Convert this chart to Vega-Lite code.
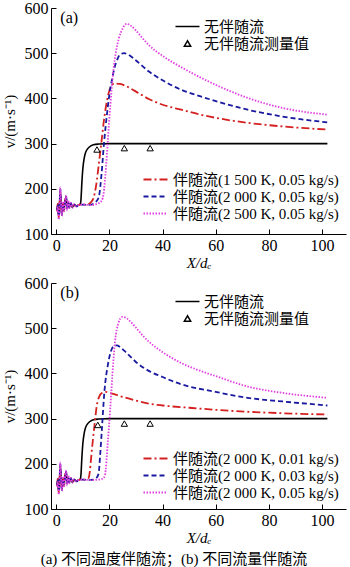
{
"$schema": "https://vega.github.io/schema/vega-lite/v6.json",
"background": "white",
"padding": {"left": 2, "top": 0, "right": 3, "bottom": 2},
"bounds": "flush",
"spacing": 49,
"config": {
  "font": "Liberation Serif, Noto Sans CJK SC",
  "view": {"stroke": null},
  "axis": {"grid": false, "domainColor": "#000", "tickColor": "#000", "labelColor": "#000", "titleColor": "#000", "labelFont": "Liberation Serif, Noto Sans CJK SC", "titleFont": "Liberation Serif, Noto Sans CJK SC", "labelFontSize": 16, "titleFontSize": 15, "titleFontWeight": "normal", "tickSize": -5, "labelPadding": 8, "labelFlush": false, "domainWidth": 1, "tickWidth": 1},
  "axisX": {"titleFontStyle": "italic", "titlePadding": 2},
  "axisY": {"titlePadding": 7},
  "legend": {"labelFont": "Liberation Serif, Noto Sans CJK SC", "labelFontSize": 15, "labelColor": "#000", "labelLimit": 400, "rowPadding": 1, "padding": 0}
},
"title": {"text": "(a) 不同温度伴随流；(b) 不同流量伴随流", "orient": "bottom", "anchor": "middle", "fontSize": 15, "fontWeight": "normal", "color": "#000", "offset": 7, "font": "Liberation Serif, Noto Sans CJK SC"},
"datasets": {
  "curves": [
    {"p":"a","s":"无伴随流","x":0.3,"y":152},{"p":"a","s":"无伴随流","x":0.6,"y":166},{"p":"a","s":"无伴随流","x":0.9,"y":140},{"p":"a","s":"无伴随流","x":1.2,"y":162},{"p":"a","s":"无伴随流","x":1.5,"y":196},{"p":"a","s":"无伴随流","x":1.8,"y":164},{"p":"a","s":"无伴随流","x":2.1,"y":144},{"p":"a","s":"无伴随流","x":2.5,"y":168},{"p":"a","s":"无伴随流","x":2.9,"y":153},{"p":"a","s":"无伴随流","x":3.3,"y":174},{"p":"a","s":"无伴随流","x":3.7,"y":181},{"p":"a","s":"无伴随流","x":4.1,"y":156},{"p":"a","s":"无伴随流","x":4.5,"y":170},{"p":"a","s":"无伴随流","x":5.0,"y":160},{"p":"a","s":"无伴随流","x":5.5,"y":167},{"p":"a","s":"无伴随流","x":6.0,"y":159},{"p":"a","s":"无伴随流","x":6.7,"y":165},{"p":"a","s":"无伴随流","x":7.5,"y":162},{"p":"a","s":"无伴随流","x":8.3,"y":164},{"p":"a","s":"无伴随流","x":9.0,"y":166},
    {"p":"a","s":"无伴随流","x":9.3,"y":178},{"p":"a","s":"无伴随流","x":9.6,"y":212},{"p":"a","s":"无伴随流","x":10.0,"y":246},{"p":"a","s":"无伴随流","x":10.5,"y":268},{"p":"a","s":"无伴随流","x":11,"y":280},{"p":"a","s":"无伴随流","x":12,"y":290},{"p":"a","s":"无伴随流","x":13,"y":295},{"p":"a","s":"无伴随流","x":14,"y":297.5},{"p":"a","s":"无伴随流","x":16,"y":299},{"p":"a","s":"无伴随流","x":20,"y":300},{"p":"a","s":"无伴随流","x":40,"y":300},{"p":"a","s":"无伴随流","x":60,"y":300},{"p":"a","s":"无伴随流","x":80,"y":300},{"p":"a","s":"无伴随流","x":102,"y":300},

    {"p":"a","s":"伴随流(1 500 K, 0.05 kg/s)","x":0.3,"y":150},{"p":"a","s":"伴随流(1 500 K, 0.05 kg/s)","x":0.6,"y":168},{"p":"a","s":"伴随流(1 500 K, 0.05 kg/s)","x":0.9,"y":136},{"p":"a","s":"伴随流(1 500 K, 0.05 kg/s)","x":1.2,"y":165},{"p":"a","s":"伴随流(1 500 K, 0.05 kg/s)","x":1.5,"y":192},{"p":"a","s":"伴随流(1 500 K, 0.05 kg/s)","x":1.8,"y":160},{"p":"a","s":"伴随流(1 500 K, 0.05 kg/s)","x":2.1,"y":146},{"p":"a","s":"伴随流(1 500 K, 0.05 kg/s)","x":2.5,"y":170},{"p":"a","s":"伴随流(1 500 K, 0.05 kg/s)","x":2.9,"y":150},{"p":"a","s":"伴随流(1 500 K, 0.05 kg/s)","x":3.3,"y":176},{"p":"a","s":"伴随流(1 500 K, 0.05 kg/s)","x":3.7,"y":178},{"p":"a","s":"伴随流(1 500 K, 0.05 kg/s)","x":4.1,"y":158},{"p":"a","s":"伴随流(1 500 K, 0.05 kg/s)","x":4.5,"y":168},{"p":"a","s":"伴随流(1 500 K, 0.05 kg/s)","x":5.0,"y":161},{"p":"a","s":"伴随流(1 500 K, 0.05 kg/s)","x":5.5,"y":166},{"p":"a","s":"伴随流(1 500 K, 0.05 kg/s)","x":6.0,"y":158},{"p":"a","s":"伴随流(1 500 K, 0.05 kg/s)","x":6.7,"y":164},{"p":"a","s":"伴随流(1 500 K, 0.05 kg/s)","x":7.5,"y":162},{"p":"a","s":"伴随流(1 500 K, 0.05 kg/s)","x":8.3,"y":164},{"p":"a","s":"伴随流(1 500 K, 0.05 kg/s)","x":9.0,"y":165},
    {"p":"a","s":"伴随流(1 500 K, 0.05 kg/s)","x":10,"y":165},{"p":"a","s":"伴随流(1 500 K, 0.05 kg/s)","x":11,"y":165},{"p":"a","s":"伴随流(1 500 K, 0.05 kg/s)","x":12,"y":166},{"p":"a","s":"伴随流(1 500 K, 0.05 kg/s)","x":13,"y":170},{"p":"a","s":"伴随流(1 500 K, 0.05 kg/s)","x":14,"y":180},{"p":"a","s":"伴随流(1 500 K, 0.05 kg/s)","x":15,"y":208},{"p":"a","s":"伴随流(1 500 K, 0.05 kg/s)","x":16,"y":255},{"p":"a","s":"伴随流(1 500 K, 0.05 kg/s)","x":17,"y":305},{"p":"a","s":"伴随流(1 500 K, 0.05 kg/s)","x":18,"y":355},{"p":"a","s":"伴随流(1 500 K, 0.05 kg/s)","x":19,"y":393},{"p":"a","s":"伴随流(1 500 K, 0.05 kg/s)","x":20,"y":418},{"p":"a","s":"伴随流(1 500 K, 0.05 kg/s)","x":21,"y":430},{"p":"a","s":"伴随流(1 500 K, 0.05 kg/s)","x":22,"y":433},{"p":"a","s":"伴随流(1 500 K, 0.05 kg/s)","x":24,"y":432},{"p":"a","s":"伴随流(1 500 K, 0.05 kg/s)","x":26,"y":428},{"p":"a","s":"伴随流(1 500 K, 0.05 kg/s)","x":30,"y":415},{"p":"a","s":"伴随流(1 500 K, 0.05 kg/s)","x":35,"y":398},{"p":"a","s":"伴随流(1 500 K, 0.05 kg/s)","x":40,"y":386},{"p":"a","s":"伴随流(1 500 K, 0.05 kg/s)","x":47,"y":375},{"p":"a","s":"伴随流(1 500 K, 0.05 kg/s)","x":55,"y":363},{"p":"a","s":"伴随流(1 500 K, 0.05 kg/s)","x":60,"y":357},{"p":"a","s":"伴随流(1 500 K, 0.05 kg/s)","x":72,"y":346},{"p":"a","s":"伴随流(1 500 K, 0.05 kg/s)","x":85,"y":338},{"p":"a","s":"伴随流(1 500 K, 0.05 kg/s)","x":102,"y":331},

    {"p":"a","s":"伴随流(2 000 K, 0.05 kg/s)","x":0.3,"y":154},{"p":"a","s":"伴随流(2 000 K, 0.05 kg/s)","x":0.6,"y":163},{"p":"a","s":"伴随流(2 000 K, 0.05 kg/s)","x":0.9,"y":139},{"p":"a","s":"伴随流(2 000 K, 0.05 kg/s)","x":1.2,"y":160},{"p":"a","s":"伴随流(2 000 K, 0.05 kg/s)","x":1.5,"y":199},{"p":"a","s":"伴随流(2 000 K, 0.05 kg/s)","x":1.8,"y":162},{"p":"a","s":"伴随流(2 000 K, 0.05 kg/s)","x":2.1,"y":142},{"p":"a","s":"伴随流(2 000 K, 0.05 kg/s)","x":2.5,"y":166},{"p":"a","s":"伴随流(2 000 K, 0.05 kg/s)","x":2.9,"y":155},{"p":"a","s":"伴随流(2 000 K, 0.05 kg/s)","x":3.3,"y":170},{"p":"a","s":"伴随流(2 000 K, 0.05 kg/s)","x":3.7,"y":183},{"p":"a","s":"伴随流(2 000 K, 0.05 kg/s)","x":4.1,"y":154},{"p":"a","s":"伴随流(2 000 K, 0.05 kg/s)","x":4.5,"y":172},{"p":"a","s":"伴随流(2 000 K, 0.05 kg/s)","x":5.0,"y":158},{"p":"a","s":"伴随流(2 000 K, 0.05 kg/s)","x":5.5,"y":168},{"p":"a","s":"伴随流(2 000 K, 0.05 kg/s)","x":6.0,"y":160},{"p":"a","s":"伴随流(2 000 K, 0.05 kg/s)","x":6.7,"y":165},{"p":"a","s":"伴随流(2 000 K, 0.05 kg/s)","x":7.5,"y":161},{"p":"a","s":"伴随流(2 000 K, 0.05 kg/s)","x":8.3,"y":163},{"p":"a","s":"伴随流(2 000 K, 0.05 kg/s)","x":9.0,"y":165},
    {"p":"a","s":"伴随流(2 000 K, 0.05 kg/s)","x":10,"y":165},{"p":"a","s":"伴随流(2 000 K, 0.05 kg/s)","x":12,"y":164},{"p":"a","s":"伴随流(2 000 K, 0.05 kg/s)","x":14,"y":167},{"p":"a","s":"伴随流(2 000 K, 0.05 kg/s)","x":15,"y":172},{"p":"a","s":"伴随流(2 000 K, 0.05 kg/s)","x":16,"y":182},{"p":"a","s":"伴随流(2 000 K, 0.05 kg/s)","x":17,"y":232},{"p":"a","s":"伴随流(2 000 K, 0.05 kg/s)","x":18,"y":305},{"p":"a","s":"伴随流(2 000 K, 0.05 kg/s)","x":19,"y":362},{"p":"a","s":"伴随流(2 000 K, 0.05 kg/s)","x":20,"y":410},{"p":"a","s":"伴随流(2 000 K, 0.05 kg/s)","x":21,"y":443},{"p":"a","s":"伴随流(2 000 K, 0.05 kg/s)","x":22,"y":470},{"p":"a","s":"伴随流(2 000 K, 0.05 kg/s)","x":23,"y":487},{"p":"a","s":"伴随流(2 000 K, 0.05 kg/s)","x":24,"y":497},{"p":"a","s":"伴随流(2 000 K, 0.05 kg/s)","x":25.5,"y":500},{"p":"a","s":"伴随流(2 000 K, 0.05 kg/s)","x":27,"y":497},{"p":"a","s":"伴随流(2 000 K, 0.05 kg/s)","x":30,"y":484},{"p":"a","s":"伴随流(2 000 K, 0.05 kg/s)","x":34.7,"y":460},{"p":"a","s":"伴随流(2 000 K, 0.05 kg/s)","x":40,"y":440},{"p":"a","s":"伴随流(2 000 K, 0.05 kg/s)","x":47,"y":419},{"p":"a","s":"伴随流(2 000 K, 0.05 kg/s)","x":54,"y":405},{"p":"a","s":"伴随流(2 000 K, 0.05 kg/s)","x":60,"y":394},{"p":"a","s":"伴随流(2 000 K, 0.05 kg/s)","x":72,"y":375},{"p":"a","s":"伴随流(2 000 K, 0.05 kg/s)","x":85,"y":360},{"p":"a","s":"伴随流(2 000 K, 0.05 kg/s)","x":102,"y":347},

    {"p":"a","s":"伴随流(2 500 K, 0.05 kg/s)","x":0.3,"y":150},{"p":"a","s":"伴随流(2 500 K, 0.05 kg/s)","x":0.6,"y":160},{"p":"a","s":"伴随流(2 500 K, 0.05 kg/s)","x":0.9,"y":132},{"p":"a","s":"伴随流(2 500 K, 0.05 kg/s)","x":1.2,"y":158},{"p":"a","s":"伴随流(2 500 K, 0.05 kg/s)","x":1.5,"y":203},{"p":"a","s":"伴随流(2 500 K, 0.05 kg/s)","x":1.8,"y":168},{"p":"a","s":"伴随流(2 500 K, 0.05 kg/s)","x":2.1,"y":140},{"p":"a","s":"伴随流(2 500 K, 0.05 kg/s)","x":2.5,"y":172},{"p":"a","s":"伴随流(2 500 K, 0.05 kg/s)","x":2.9,"y":150},{"p":"a","s":"伴随流(2 500 K, 0.05 kg/s)","x":3.3,"y":172},{"p":"a","s":"伴随流(2 500 K, 0.05 kg/s)","x":3.7,"y":185},{"p":"a","s":"伴随流(2 500 K, 0.05 kg/s)","x":4.1,"y":152},{"p":"a","s":"伴随流(2 500 K, 0.05 kg/s)","x":4.5,"y":174},{"p":"a","s":"伴随流(2 500 K, 0.05 kg/s)","x":5.0,"y":157},{"p":"a","s":"伴随流(2 500 K, 0.05 kg/s)","x":5.5,"y":169},{"p":"a","s":"伴随流(2 500 K, 0.05 kg/s)","x":6.0,"y":158},{"p":"a","s":"伴随流(2 500 K, 0.05 kg/s)","x":6.7,"y":166},{"p":"a","s":"伴随流(2 500 K, 0.05 kg/s)","x":7.5,"y":161},{"p":"a","s":"伴随流(2 500 K, 0.05 kg/s)","x":8.3,"y":164},{"p":"a","s":"伴随流(2 500 K, 0.05 kg/s)","x":9.0,"y":165},
    {"p":"a","s":"伴随流(2 500 K, 0.05 kg/s)","x":10,"y":165},{"p":"a","s":"伴随流(2 500 K, 0.05 kg/s)","x":13,"y":164},{"p":"a","s":"伴随流(2 500 K, 0.05 kg/s)","x":15,"y":166},{"p":"a","s":"伴随流(2 500 K, 0.05 kg/s)","x":16.5,"y":170},{"p":"a","s":"伴随流(2 500 K, 0.05 kg/s)","x":17.5,"y":180},{"p":"a","s":"伴随流(2 500 K, 0.05 kg/s)","x":18.5,"y":232},{"p":"a","s":"伴随流(2 500 K, 0.05 kg/s)","x":19.4,"y":309},{"p":"a","s":"伴随流(2 500 K, 0.05 kg/s)","x":20.3,"y":383},{"p":"a","s":"伴随流(2 500 K, 0.05 kg/s)","x":21.5,"y":463},{"p":"a","s":"伴随流(2 500 K, 0.05 kg/s)","x":22.5,"y":505},{"p":"a","s":"伴随流(2 500 K, 0.05 kg/s)","x":23.5,"y":532},{"p":"a","s":"伴随流(2 500 K, 0.05 kg/s)","x":25,"y":555},{"p":"a","s":"伴随流(2 500 K, 0.05 kg/s)","x":26.5,"y":565},{"p":"a","s":"伴随流(2 500 K, 0.05 kg/s)","x":28,"y":561},{"p":"a","s":"伴随流(2 500 K, 0.05 kg/s)","x":30,"y":550},{"p":"a","s":"伴随流(2 500 K, 0.05 kg/s)","x":32,"y":536},{"p":"a","s":"伴随流(2 500 K, 0.05 kg/s)","x":35,"y":517},{"p":"a","s":"伴随流(2 500 K, 0.05 kg/s)","x":40,"y":494},{"p":"a","s":"伴随流(2 500 K, 0.05 kg/s)","x":47,"y":469},{"p":"a","s":"伴随流(2 500 K, 0.05 kg/s)","x":54,"y":447},{"p":"a","s":"伴随流(2 500 K, 0.05 kg/s)","x":60,"y":430},{"p":"a","s":"伴随流(2 500 K, 0.05 kg/s)","x":72,"y":401},{"p":"a","s":"伴随流(2 500 K, 0.05 kg/s)","x":85,"y":379},{"p":"a","s":"伴随流(2 500 K, 0.05 kg/s)","x":102,"y":364},

    {"p":"b","s":"无伴随流","x":0.3,"y":152},{"p":"b","s":"无伴随流","x":0.6,"y":166},{"p":"b","s":"无伴随流","x":0.9,"y":140},{"p":"b","s":"无伴随流","x":1.2,"y":162},{"p":"b","s":"无伴随流","x":1.5,"y":196},{"p":"b","s":"无伴随流","x":1.8,"y":164},{"p":"b","s":"无伴随流","x":2.1,"y":144},{"p":"b","s":"无伴随流","x":2.5,"y":168},{"p":"b","s":"无伴随流","x":2.9,"y":153},{"p":"b","s":"无伴随流","x":3.3,"y":174},{"p":"b","s":"无伴随流","x":3.7,"y":181},{"p":"b","s":"无伴随流","x":4.1,"y":156},{"p":"b","s":"无伴随流","x":4.5,"y":170},{"p":"b","s":"无伴随流","x":5.0,"y":160},{"p":"b","s":"无伴随流","x":5.5,"y":167},{"p":"b","s":"无伴随流","x":6.0,"y":159},{"p":"b","s":"无伴随流","x":6.7,"y":165},{"p":"b","s":"无伴随流","x":7.5,"y":162},{"p":"b","s":"无伴随流","x":8.3,"y":164},{"p":"b","s":"无伴随流","x":9.0,"y":166},
    {"p":"b","s":"无伴随流","x":9.3,"y":178},{"p":"b","s":"无伴随流","x":9.6,"y":212},{"p":"b","s":"无伴随流","x":10.0,"y":246},{"p":"b","s":"无伴随流","x":10.5,"y":268},{"p":"b","s":"无伴随流","x":11,"y":280},{"p":"b","s":"无伴随流","x":12,"y":290},{"p":"b","s":"无伴随流","x":13,"y":295},{"p":"b","s":"无伴随流","x":14,"y":297.5},{"p":"b","s":"无伴随流","x":16,"y":299},{"p":"b","s":"无伴随流","x":20,"y":300},{"p":"b","s":"无伴随流","x":40,"y":300},{"p":"b","s":"无伴随流","x":60,"y":300},{"p":"b","s":"无伴随流","x":80,"y":300},{"p":"b","s":"无伴随流","x":102,"y":300},

    {"p":"b","s":"伴随流(2 000 K, 0.01 kg/s)","x":0.3,"y":150},{"p":"b","s":"伴随流(2 000 K, 0.01 kg/s)","x":0.6,"y":168},{"p":"b","s":"伴随流(2 000 K, 0.01 kg/s)","x":0.9,"y":136},{"p":"b","s":"伴随流(2 000 K, 0.01 kg/s)","x":1.2,"y":165},{"p":"b","s":"伴随流(2 000 K, 0.01 kg/s)","x":1.5,"y":192},{"p":"b","s":"伴随流(2 000 K, 0.01 kg/s)","x":1.8,"y":160},{"p":"b","s":"伴随流(2 000 K, 0.01 kg/s)","x":2.1,"y":146},{"p":"b","s":"伴随流(2 000 K, 0.01 kg/s)","x":2.5,"y":170},{"p":"b","s":"伴随流(2 000 K, 0.01 kg/s)","x":2.9,"y":150},{"p":"b","s":"伴随流(2 000 K, 0.01 kg/s)","x":3.3,"y":176},{"p":"b","s":"伴随流(2 000 K, 0.01 kg/s)","x":3.7,"y":178},{"p":"b","s":"伴随流(2 000 K, 0.01 kg/s)","x":4.1,"y":158},{"p":"b","s":"伴随流(2 000 K, 0.01 kg/s)","x":4.5,"y":168},{"p":"b","s":"伴随流(2 000 K, 0.01 kg/s)","x":5.0,"y":161},{"p":"b","s":"伴随流(2 000 K, 0.01 kg/s)","x":5.5,"y":166},{"p":"b","s":"伴随流(2 000 K, 0.01 kg/s)","x":6.0,"y":158},{"p":"b","s":"伴随流(2 000 K, 0.01 kg/s)","x":6.7,"y":164},{"p":"b","s":"伴随流(2 000 K, 0.01 kg/s)","x":7.5,"y":162},{"p":"b","s":"伴随流(2 000 K, 0.01 kg/s)","x":8.3,"y":164},{"p":"b","s":"伴随流(2 000 K, 0.01 kg/s)","x":9.0,"y":165},
    {"p":"b","s":"伴随流(2 000 K, 0.01 kg/s)","x":10,"y":165},{"p":"b","s":"伴随流(2 000 K, 0.01 kg/s)","x":11,"y":165},{"p":"b","s":"伴随流(2 000 K, 0.01 kg/s)","x":12,"y":167},{"p":"b","s":"伴随流(2 000 K, 0.01 kg/s)","x":12.6,"y":182},{"p":"b","s":"伴随流(2 000 K, 0.01 kg/s)","x":13.1,"y":213},{"p":"b","s":"伴随流(2 000 K, 0.01 kg/s)","x":13.8,"y":255},{"p":"b","s":"伴随流(2 000 K, 0.01 kg/s)","x":14.4,"y":287},{"p":"b","s":"伴随流(2 000 K, 0.01 kg/s)","x":15.2,"y":328},{"p":"b","s":"伴随流(2 000 K, 0.01 kg/s)","x":16.1,"y":348},{"p":"b","s":"伴随流(2 000 K, 0.01 kg/s)","x":17,"y":356},{"p":"b","s":"伴随流(2 000 K, 0.01 kg/s)","x":18.5,"y":359},{"p":"b","s":"伴随流(2 000 K, 0.01 kg/s)","x":20,"y":357},{"p":"b","s":"伴随流(2 000 K, 0.01 kg/s)","x":25,"y":348},{"p":"b","s":"伴随流(2 000 K, 0.01 kg/s)","x":30,"y":340},{"p":"b","s":"伴随流(2 000 K, 0.01 kg/s)","x":35,"y":333},{"p":"b","s":"伴随流(2 000 K, 0.01 kg/s)","x":40,"y":329},{"p":"b","s":"伴随流(2 000 K, 0.01 kg/s)","x":50,"y":324},{"p":"b","s":"伴随流(2 000 K, 0.01 kg/s)","x":66,"y":317},{"p":"b","s":"伴随流(2 000 K, 0.01 kg/s)","x":80,"y":313},{"p":"b","s":"伴随流(2 000 K, 0.01 kg/s)","x":102,"y":309},

    {"p":"b","s":"伴随流(2 000 K, 0.03 kg/s)","x":0.3,"y":154},{"p":"b","s":"伴随流(2 000 K, 0.03 kg/s)","x":0.6,"y":163},{"p":"b","s":"伴随流(2 000 K, 0.03 kg/s)","x":0.9,"y":139},{"p":"b","s":"伴随流(2 000 K, 0.03 kg/s)","x":1.2,"y":160},{"p":"b","s":"伴随流(2 000 K, 0.03 kg/s)","x":1.5,"y":199},{"p":"b","s":"伴随流(2 000 K, 0.03 kg/s)","x":1.8,"y":162},{"p":"b","s":"伴随流(2 000 K, 0.03 kg/s)","x":2.1,"y":142},{"p":"b","s":"伴随流(2 000 K, 0.03 kg/s)","x":2.5,"y":166},{"p":"b","s":"伴随流(2 000 K, 0.03 kg/s)","x":2.9,"y":155},{"p":"b","s":"伴随流(2 000 K, 0.03 kg/s)","x":3.3,"y":170},{"p":"b","s":"伴随流(2 000 K, 0.03 kg/s)","x":3.7,"y":183},{"p":"b","s":"伴随流(2 000 K, 0.03 kg/s)","x":4.1,"y":154},{"p":"b","s":"伴随流(2 000 K, 0.03 kg/s)","x":4.5,"y":172},{"p":"b","s":"伴随流(2 000 K, 0.03 kg/s)","x":5.0,"y":158},{"p":"b","s":"伴随流(2 000 K, 0.03 kg/s)","x":5.5,"y":168},{"p":"b","s":"伴随流(2 000 K, 0.03 kg/s)","x":6.0,"y":160},{"p":"b","s":"伴随流(2 000 K, 0.03 kg/s)","x":6.7,"y":165},{"p":"b","s":"伴随流(2 000 K, 0.03 kg/s)","x":7.5,"y":161},{"p":"b","s":"伴随流(2 000 K, 0.03 kg/s)","x":8.3,"y":163},{"p":"b","s":"伴随流(2 000 K, 0.03 kg/s)","x":9.0,"y":165},
    {"p":"b","s":"伴随流(2 000 K, 0.03 kg/s)","x":10,"y":165},{"p":"b","s":"伴随流(2 000 K, 0.03 kg/s)","x":12,"y":164},{"p":"b","s":"伴随流(2 000 K, 0.03 kg/s)","x":14,"y":165},{"p":"b","s":"伴随流(2 000 K, 0.03 kg/s)","x":15,"y":168},{"p":"b","s":"伴随流(2 000 K, 0.03 kg/s)","x":15.9,"y":178},{"p":"b","s":"伴随流(2 000 K, 0.03 kg/s)","x":16.5,"y":220},{"p":"b","s":"伴随流(2 000 K, 0.03 kg/s)","x":17.1,"y":272},{"p":"b","s":"伴随流(2 000 K, 0.03 kg/s)","x":18.1,"y":360},{"p":"b","s":"伴随流(2 000 K, 0.03 kg/s)","x":19.4,"y":419},{"p":"b","s":"伴随流(2 000 K, 0.03 kg/s)","x":20.5,"y":448},{"p":"b","s":"伴随流(2 000 K, 0.03 kg/s)","x":21.5,"y":460},{"p":"b","s":"伴随流(2 000 K, 0.03 kg/s)","x":22.8,"y":462},{"p":"b","s":"伴随流(2 000 K, 0.03 kg/s)","x":24,"y":458},{"p":"b","s":"伴随流(2 000 K, 0.03 kg/s)","x":27,"y":442},{"p":"b","s":"伴随流(2 000 K, 0.03 kg/s)","x":31,"y":420},{"p":"b","s":"伴随流(2 000 K, 0.03 kg/s)","x":35,"y":405},{"p":"b","s":"伴随流(2 000 K, 0.03 kg/s)","x":40,"y":392},{"p":"b","s":"伴随流(2 000 K, 0.03 kg/s)","x":47,"y":376},{"p":"b","s":"伴随流(2 000 K, 0.03 kg/s)","x":60,"y":359},{"p":"b","s":"伴随流(2 000 K, 0.03 kg/s)","x":72,"y":346},{"p":"b","s":"伴随流(2 000 K, 0.03 kg/s)","x":85,"y":338},{"p":"b","s":"伴随流(2 000 K, 0.03 kg/s)","x":102,"y":329},

    {"p":"b","s":"伴随流(2 000 K, 0.05 kg/s)","x":0.3,"y":150},{"p":"b","s":"伴随流(2 000 K, 0.05 kg/s)","x":0.6,"y":160},{"p":"b","s":"伴随流(2 000 K, 0.05 kg/s)","x":0.9,"y":132},{"p":"b","s":"伴随流(2 000 K, 0.05 kg/s)","x":1.2,"y":158},{"p":"b","s":"伴随流(2 000 K, 0.05 kg/s)","x":1.5,"y":203},{"p":"b","s":"伴随流(2 000 K, 0.05 kg/s)","x":1.8,"y":168},{"p":"b","s":"伴随流(2 000 K, 0.05 kg/s)","x":2.1,"y":140},{"p":"b","s":"伴随流(2 000 K, 0.05 kg/s)","x":2.5,"y":172},{"p":"b","s":"伴随流(2 000 K, 0.05 kg/s)","x":2.9,"y":150},{"p":"b","s":"伴随流(2 000 K, 0.05 kg/s)","x":3.3,"y":172},{"p":"b","s":"伴随流(2 000 K, 0.05 kg/s)","x":3.7,"y":185},{"p":"b","s":"伴随流(2 000 K, 0.05 kg/s)","x":4.1,"y":152},{"p":"b","s":"伴随流(2 000 K, 0.05 kg/s)","x":4.5,"y":174},{"p":"b","s":"伴随流(2 000 K, 0.05 kg/s)","x":5.0,"y":157},{"p":"b","s":"伴随流(2 000 K, 0.05 kg/s)","x":5.5,"y":169},{"p":"b","s":"伴随流(2 000 K, 0.05 kg/s)","x":6.0,"y":158},{"p":"b","s":"伴随流(2 000 K, 0.05 kg/s)","x":6.7,"y":166},{"p":"b","s":"伴随流(2 000 K, 0.05 kg/s)","x":7.5,"y":161},{"p":"b","s":"伴随流(2 000 K, 0.05 kg/s)","x":8.3,"y":164},{"p":"b","s":"伴随流(2 000 K, 0.05 kg/s)","x":9.0,"y":165},
    {"p":"b","s":"伴随流(2 000 K, 0.05 kg/s)","x":10,"y":165},{"p":"b","s":"伴随流(2 000 K, 0.05 kg/s)","x":13,"y":164},{"p":"b","s":"伴随流(2 000 K, 0.05 kg/s)","x":16,"y":165},{"p":"b","s":"伴随流(2 000 K, 0.05 kg/s)","x":17.5,"y":167},{"p":"b","s":"伴随流(2 000 K, 0.05 kg/s)","x":18.3,"y":175},{"p":"b","s":"伴随流(2 000 K, 0.05 kg/s)","x":19.4,"y":250},{"p":"b","s":"伴随流(2 000 K, 0.05 kg/s)","x":20.3,"y":323},{"p":"b","s":"伴随流(2 000 K, 0.05 kg/s)","x":21.1,"y":397},{"p":"b","s":"伴随流(2 000 K, 0.05 kg/s)","x":22.1,"y":471},{"p":"b","s":"伴随流(2 000 K, 0.05 kg/s)","x":23.4,"y":512},{"p":"b","s":"伴随流(2 000 K, 0.05 kg/s)","x":24.8,"y":525},{"p":"b","s":"伴随流(2 000 K, 0.05 kg/s)","x":26.5,"y":522},{"p":"b","s":"伴随流(2 000 K, 0.05 kg/s)","x":28,"y":514},{"p":"b","s":"伴随流(2 000 K, 0.05 kg/s)","x":30,"y":501},{"p":"b","s":"伴随流(2 000 K, 0.05 kg/s)","x":32,"y":487},{"p":"b","s":"伴随流(2 000 K, 0.05 kg/s)","x":34.7,"y":471},{"p":"b","s":"伴随流(2 000 K, 0.05 kg/s)","x":40,"y":447},{"p":"b","s":"伴随流(2 000 K, 0.05 kg/s)","x":47,"y":423},{"p":"b","s":"伴随流(2 000 K, 0.05 kg/s)","x":54,"y":406},{"p":"b","s":"伴随流(2 000 K, 0.05 kg/s)","x":60,"y":394},{"p":"b","s":"伴随流(2 000 K, 0.05 kg/s)","x":72,"y":371},{"p":"b","s":"伴随流(2 000 K, 0.05 kg/s)","x":85,"y":357},{"p":"b","s":"伴随流(2 000 K, 0.05 kg/s)","x":102,"y":346}
  ],
  "pts": [
    {"p":"a","s":"无伴随流测量值","x":15.3,"y":287},{"p":"a","s":"无伴随流测量值","x":25.6,"y":290},{"p":"a","s":"无伴随流测量值","x":35.3,"y":290},
    {"p":"b","s":"无伴随流测量值","x":15.6,"y":286},{"p":"b","s":"无伴随流测量值","x":25.6,"y":289},{"p":"b","s":"无伴随流测量值","x":35.3,"y":289}
  ],
  "tags": [
    {"p":"a","label":"(a)","x":1.5,"y":578},
    {"p":"b","label":"(b)","x":1.5,"y":578}
  ]
},
"vconcat": [
  {
    "width": 295, "height": 226,
    "layer": [
      {"data": {"name": "curves"}, "transform": [{"filter": "datum.p == 'a' && datum.s == '无伴随流'"}],
       "mark": {"type": "line", "interpolate": "monotone", "strokeWidth": 1.6},
       "encoding": {
         "x": {"field": "x", "type": "quantitative", "scale": {"domain": [-2, 109], "nice": false, "zero": false}, "axis": {"values": [0,20,40,60,80,100], "title": "X/dₑ"}},
         "y": {"field": "y", "type": "quantitative", "scale": {"domain": [100, 600], "nice": false, "zero": false}, "axis": {"values": [100,200,300,400,500,600], "title": "v/(m·s⁻¹)"}},
         "stroke": {"field": "s", "type": "nominal", "scale": {"domain": ["无伴随流", "无伴随流测量值"], "range": ["#000", "#000"]},
           "legend": {"orient": "none", "legendX": 129, "legendY": 11, "title": null, "symbolType": "M-2,0H2", "symbolSize": 144, "labelOffset": 9, "labelFontSize": 15,
             "encode": {"symbols": {"update": {"shape": {"signal": "datum.value == '无伴随流' ? 'M-2,0H2' : 'triangle-up'"}, "size": {"signal": "datum.value == '无伴随流' ? 144 : 40"}, "strokeWidth": {"value": 1.5}, "fill": {"value": "transparent"}, "stroke": {"value": "#000"}, "opacity": {"value": 1}}}}}}
       }},
      {"data": {"name": "curves"}, "transform": [{"filter": "datum.p == 'a' && datum.s != '无伴随流'"}],
       "mark": {"type": "line", "interpolate": "monotone", "strokeWidth": 1.8},
       "encoding": {
         "x": {"field": "x", "type": "quantitative"},
         "y": {"field": "y", "type": "quantitative"},
         "color": {"field": "s", "type": "nominal", "scale": {"domain": ["伴随流(1 500 K, 0.05 kg/s)", "伴随流(2 000 K, 0.05 kg/s)", "伴随流(2 500 K, 0.05 kg/s)"], "range": ["#d42020", "#1a1aa0", "#e040e0"]},
           "legend": {"orient": "none", "legendX": 97, "legendY": 164, "title": null, "symbolType": "M-2,0H2", "symbolSize": 144, "symbolStrokeWidth": 1.8, "labelOffset": 10, "labelFontSize": 15}},
         "strokeDash": {"field": "s", "type": "nominal", "scale": {"domain": ["伴随流(1 500 K, 0.05 kg/s)", "伴随流(2 000 K, 0.05 kg/s)", "伴随流(2 500 K, 0.05 kg/s)"], "range": [[8,3,2,3],[5,3],[1.5,1.5]]},
           "legend": {"orient": "none", "legendX": 97, "legendY": 164, "title": null, "symbolType": "M-2,0H2", "symbolSize": 144, "symbolStrokeWidth": 1.8, "labelOffset": 10, "labelFontSize": 15}}
       }},
      {"data": {"name": "pts"}, "transform": [{"filter": "datum.p == 'a'"}],
       "mark": {"type": "point", "shape": "triangle-up", "filled": false, "size": 40, "strokeWidth": 1, "opacity": 1},
       "encoding": {
         "x": {"field": "x", "type": "quantitative"},
         "y": {"field": "y", "type": "quantitative"},
         "stroke": {"field": "s", "type": "nominal"}
       }},
      {"data": {"name": "tags"}, "transform": [{"filter": "datum.p == 'a'"}],
       "mark": {"type": "text", "align": "left", "baseline": "middle", "fontSize": 16, "font": "Liberation Serif", "color": "#000"},
       "encoding": {
         "x": {"field": "x", "type": "quantitative"},
         "y": {"field": "y", "type": "quantitative"},
         "text": {"field": "label"}
       }}
    ]
  },
  {
    "width": 295, "height": 226,
    "layer": [
      {"data": {"name": "curves"}, "transform": [{"filter": "datum.p == 'b' && datum.s == '无伴随流'"}],
       "mark": {"type": "line", "interpolate": "monotone", "strokeWidth": 1.6},
       "encoding": {
         "x": {"field": "x", "type": "quantitative", "scale": {"domain": [-2, 109], "nice": false, "zero": false}, "axis": {"values": [0,20,40,60,80,100], "title": "X/dₑ"}},
         "y": {"field": "y", "type": "quantitative", "scale": {"domain": [100, 600], "nice": false, "zero": false}, "axis": {"values": [100,200,300,400,500,600], "title": "v/(m·s⁻¹)"}},
         "stroke": {"field": "s", "type": "nominal", "scale": {"domain": ["无伴随流", "无伴随流测量值"], "range": ["#000", "#000"]},
           "legend": {"orient": "none", "legendX": 129, "legendY": 11, "title": null, "symbolType": "M-2,0H2", "symbolSize": 144, "labelOffset": 9, "labelFontSize": 15,
             "encode": {"symbols": {"update": {"shape": {"signal": "datum.value == '无伴随流' ? 'M-2,0H2' : 'triangle-up'"}, "size": {"signal": "datum.value == '无伴随流' ? 144 : 40"}, "strokeWidth": {"value": 1.5}, "fill": {"value": "transparent"}, "stroke": {"value": "#000"}, "opacity": {"value": 1}}}}}}
       }},
      {"data": {"name": "curves"}, "transform": [{"filter": "datum.p == 'b' && datum.s != '无伴随流'"}],
       "mark": {"type": "line", "interpolate": "monotone", "strokeWidth": 1.8},
       "encoding": {
         "x": {"field": "x", "type": "quantitative"},
         "y": {"field": "y", "type": "quantitative"},
         "color": {"field": "s", "type": "nominal", "scale": {"domain": ["伴随流(2 000 K, 0.01 kg/s)", "伴随流(2 000 K, 0.03 kg/s)", "伴随流(2 000 K, 0.05 kg/s)"], "range": ["#d42020", "#1a1aa0", "#e040e0"]},
           "legend": {"orient": "none", "legendX": 97, "legendY": 168, "title": null, "symbolType": "M-2,0H2", "symbolSize": 144, "symbolStrokeWidth": 1.8, "labelOffset": 10, "labelFontSize": 15}},
         "strokeDash": {"field": "s", "type": "nominal", "scale": {"domain": ["伴随流(2 000 K, 0.01 kg/s)", "伴随流(2 000 K, 0.03 kg/s)", "伴随流(2 000 K, 0.05 kg/s)"], "range": [[8,3,2,3],[5,3],[1.5,1.5]]},
           "legend": {"orient": "none", "legendX": 97, "legendY": 168, "title": null, "symbolType": "M-2,0H2", "symbolSize": 144, "symbolStrokeWidth": 1.8, "labelOffset": 10, "labelFontSize": 15}}
       }},
      {"data": {"name": "pts"}, "transform": [{"filter": "datum.p == 'b'"}],
       "mark": {"type": "point", "shape": "triangle-up", "filled": false, "size": 40, "strokeWidth": 1, "opacity": 1},
       "encoding": {
         "x": {"field": "x", "type": "quantitative"},
         "y": {"field": "y", "type": "quantitative"},
         "stroke": {"field": "s", "type": "nominal"}
       }},
      {"data": {"name": "tags"}, "transform": [{"filter": "datum.p == 'b'"}],
       "mark": {"type": "text", "align": "left", "baseline": "middle", "fontSize": 16, "font": "Liberation Serif", "color": "#000"},
       "encoding": {
         "x": {"field": "x", "type": "quantitative"},
         "y": {"field": "y", "type": "quantitative"},
         "text": {"field": "label"}
       }}
    ]
  }
],
"resolve": {"scale": {"color": "independent", "strokeDash": "independent", "stroke": "independent", "x": "independent", "y": "independent"}, "legend": {"color": "independent", "strokeDash": "independent", "stroke": "independent"}}
}
